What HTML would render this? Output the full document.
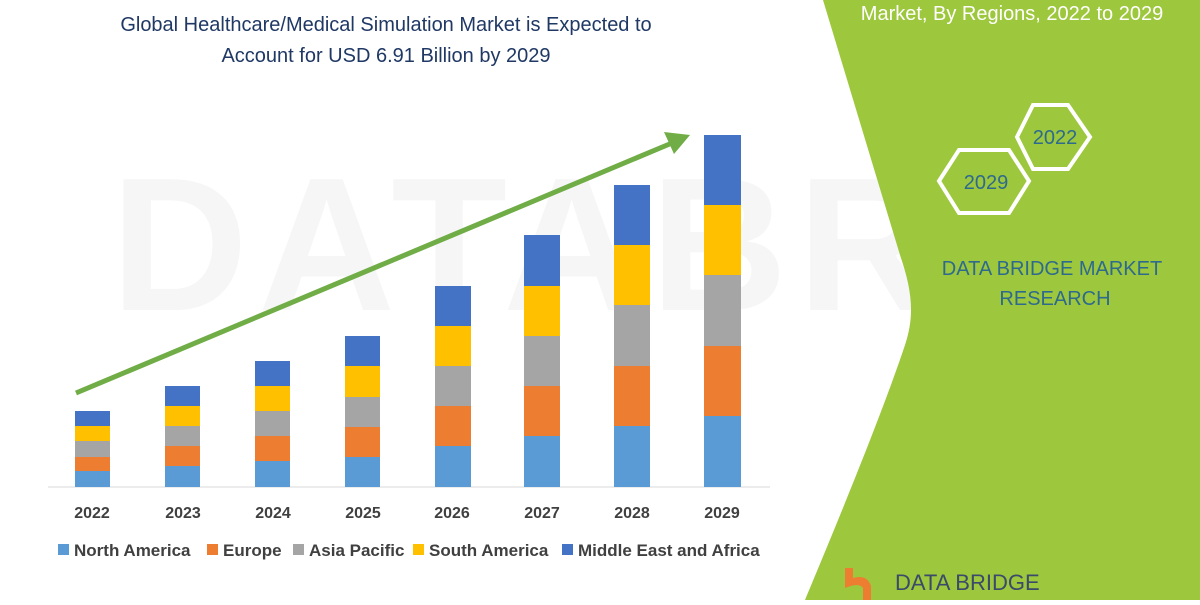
<!DOCTYPE html>
<html><head><style>
body{margin:0;width:1200px;height:600px;overflow:hidden;background:#fff;font-family:"Liberation Sans",sans-serif;}
</style></head><body>
<svg width="1200" height="600" xmlns="http://www.w3.org/2000/svg">
<rect width="1200" height="600" fill="#fff"/>
<text x="780" y="310" font-size="190" fill="#f6f6f6" font-weight="bold" text-anchor="middle" letter-spacing="10">DATABRIDGE</text>
<path d="M823,0 L1200,0 L1200,600 L805,600 C830,540 880,420 905,345 C915,315 912,290 900,255 Z" fill="#9dc73c"/>
<text x="1012" y="20" font-size="20" fill="#fff" text-anchor="middle">Market, By Regions, 2022 to 2029</text>
<polygon points="1017,137 1033,105 1068,105 1090,137 1068,169 1033,169" fill="none" stroke="#fff" stroke-width="4"/>
<polygon points="939,181 959,150 1009,150 1029,181 1009,213 959,213" fill="none" stroke="#fff" stroke-width="4"/>
<text x="1055" y="144" font-size="20" fill="#2e6a8e" text-anchor="middle">2022</text>
<text x="986" y="189" font-size="20" fill="#2e6a8e" text-anchor="middle">2029</text>
<text x="1052" y="275" font-size="20" fill="#2e6a8e" text-anchor="middle">DATA BRIDGE MARKET</text>
<text x="1055" y="305" font-size="20" fill="#2e6a8e" text-anchor="middle">RESEARCH</text>
<path d="M845,568 h8 v10 q14,-4 18,8 v14 h-8 v-12 q-4,-6 -18,0 z" fill="#ed7d31"/>
<text x="895" y="590" font-size="22" fill="#3a4a6a">DATA BRIDGE</text>
<text x="386" y="31" font-size="20" fill="#1f3864" text-anchor="middle">Global Healthcare/Medical Simulation Market is Expected to</text>
<text x="386" y="62" font-size="20" fill="#1f3864" text-anchor="middle">Account for USD 6.91 Billion by 2029</text>
<line x1="48" y1="487" x2="770" y2="487" stroke="#d9d9d9" stroke-width="1"/>
<line x1="76" y1="393" x2="672" y2="143" stroke="#70ad47" stroke-width="5"/>
<polygon points="690,135 664,132 674,154" fill="#70ad47"/>
<g font-size="16" font-weight="bold" fill="#404040" text-anchor="middle">
<text x="92" y="518">2022</text><text x="183" y="518">2023</text><text x="273" y="518">2024</text><text x="363" y="518">2025</text><text x="452" y="518">2026</text><text x="542" y="518">2027</text><text x="632" y="518">2028</text><text x="722" y="518">2029</text>
</g>
<g font-size="17" font-weight="bold" fill="#404040">
<rect x="58" y="544" width="11" height="11" fill="#5b9bd5"/><text x="74" y="556">North America</text>
<rect x="207" y="544" width="11" height="11" fill="#ed7d31"/><text x="223" y="556">Europe</text>
<rect x="293" y="544" width="11" height="11" fill="#a5a5a5"/><text x="309" y="556">Asia Pacific</text>
<rect x="413" y="544" width="11" height="11" fill="#ffc000"/><text x="429" y="556">South America</text>
<rect x="562" y="544" width="11" height="11" fill="#4472c4"/><text x="578" y="556">Middle East and Africa</text>
</g>
<g>
<rect x="75" y="471" width="35" height="16" fill="#5b9bd5"/><rect x="75" y="457" width="35" height="14" fill="#ed7d31"/><rect x="75" y="441" width="35" height="16" fill="#a5a5a5"/><rect x="75" y="426" width="35" height="15" fill="#ffc000"/><rect x="75" y="411" width="35" height="15" fill="#4472c4"/>
<rect x="165" y="466" width="35" height="21" fill="#5b9bd5"/><rect x="165" y="446" width="35" height="20" fill="#ed7d31"/><rect x="165" y="426" width="35" height="20" fill="#a5a5a5"/><rect x="165" y="406" width="35" height="20" fill="#ffc000"/><rect x="165" y="386" width="35" height="20" fill="#4472c4"/>
<rect x="255" y="461" width="35" height="26" fill="#5b9bd5"/><rect x="255" y="436" width="35" height="25" fill="#ed7d31"/><rect x="255" y="411" width="35" height="25" fill="#a5a5a5"/><rect x="255" y="386" width="35" height="25" fill="#ffc000"/><rect x="255" y="361" width="35" height="25" fill="#4472c4"/>
<rect x="345" y="457" width="35" height="30" fill="#5b9bd5"/><rect x="345" y="427" width="35" height="30" fill="#ed7d31"/><rect x="345" y="397" width="35" height="30" fill="#a5a5a5"/><rect x="345" y="366" width="35" height="31" fill="#ffc000"/><rect x="345" y="336" width="35" height="30" fill="#4472c4"/>
<rect x="435" y="446" width="36" height="41" fill="#5b9bd5"/><rect x="435" y="406" width="36" height="40" fill="#ed7d31"/><rect x="435" y="366" width="36" height="40" fill="#a5a5a5"/><rect x="435" y="326" width="36" height="40" fill="#ffc000"/><rect x="435" y="286" width="36" height="40" fill="#4472c4"/>
<rect x="524" y="436" width="36" height="51" fill="#5b9bd5"/><rect x="524" y="386" width="36" height="50" fill="#ed7d31"/><rect x="524" y="336" width="36" height="50" fill="#a5a5a5"/><rect x="524" y="286" width="36" height="50" fill="#ffc000"/><rect x="524" y="235" width="36" height="51" fill="#4472c4"/>
<rect x="614" y="426" width="36" height="61" fill="#5b9bd5"/><rect x="614" y="366" width="36" height="60" fill="#ed7d31"/><rect x="614" y="305" width="36" height="61" fill="#a5a5a5"/><rect x="614" y="245" width="36" height="60" fill="#ffc000"/><rect x="614" y="185" width="36" height="60" fill="#4472c4"/>
<rect x="704" y="416" width="37" height="71" fill="#5b9bd5"/><rect x="704" y="346" width="37" height="70" fill="#ed7d31"/><rect x="704" y="275" width="37" height="71" fill="#a5a5a5"/><rect x="704" y="205" width="37" height="70" fill="#ffc000"/><rect x="704" y="135" width="37" height="70" fill="#4472c4"/>
</g>
</svg>
</body></html>
